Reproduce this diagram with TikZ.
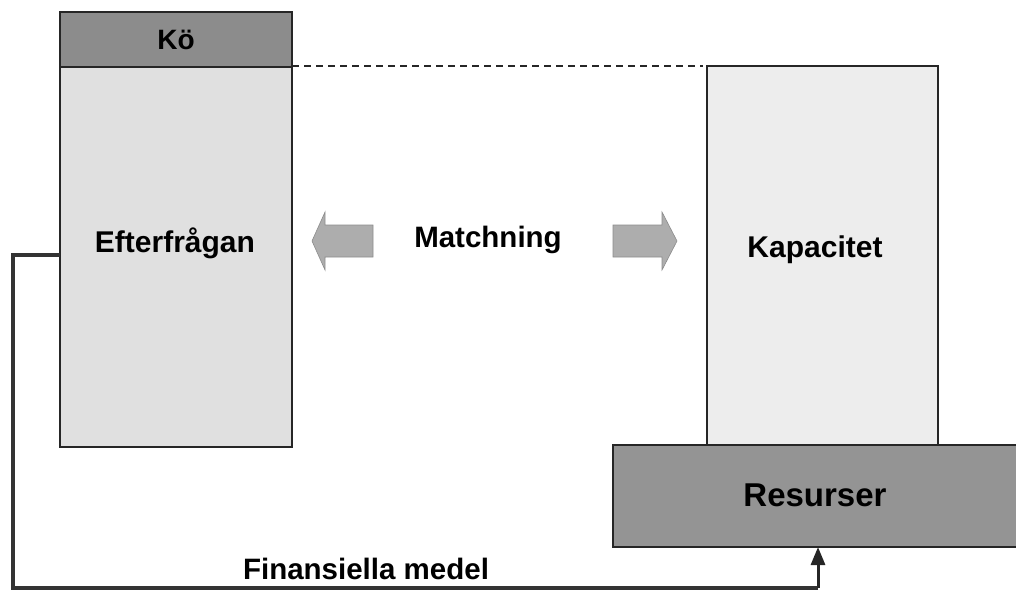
\documentclass[tikz,border=0pt]{standalone}
\usepackage{fontspec}
\setmainfont{Liberation Sans}
\usetikzlibrary{arrows.meta}
\begin{document}
\begin{tikzpicture}[x=1pt,y=-1pt,
  box/.style={draw=black!85,line width=1.8pt,inner sep=0pt},
  lbl/.style={font=\bfseries\fontsize{29.5}{32}\selectfont,text=black,inner sep=0pt},
  feed/.style={draw=black!80,line width=3.5pt},
  marrow/.style={fill=black!32,draw=black!45,line width=0.6pt}]
\useasboundingbox (0,0) rectangle (1016,590);
\begin{scope}
\clip (0,0) rectangle (1016,590);
% left column
\draw[box,fill=black!45] (60,12) rectangle (292,67);
\draw[box,fill=black!12] (60,67) rectangle (292,447);
\coordinate (ko) at (176,40);
\coordinate (eft) at (175,243);
\coordinate (eftW) at (60,255);
% right column
\draw[box,fill=black!7] (707,66) rectangle (938,445);
\coordinate (kap) at (815,250);
\draw[box,fill=black!42] (613,445) rectangle (1030,547);
\coordinate (res) at (815,495);
\coordinate (resS) at (818,547);
% dashed link
\draw[black!85,line width=2pt,dash pattern=on 7pt off 5pt] (292,66) -- (703,66);
% matching arrows
\draw[marrow] (312,241) -- (325,212) -- (325,225) -- (373,225) -- (373,257) -- (325,257) -- (325,270) -- cycle;
\draw[marrow] (677,241) -- (662,212) -- (662,225) -- (613,225) -- (613,257) -- (662,257) -- (662,270) -- cycle;
% feedback line
\coordinate (c1) at (13,255);
\coordinate (c2) at (13,588);
\coordinate (c3) at (818,588);
\draw[feed] (eftW) -- (c1) -- (c2) -- (c3);
\draw[black!85,line width=3pt,-{Triangle[length=18pt,width=14pt]}] (c3) -- (resS);
\end{scope}
% labels
\node[lbl,font=\bfseries\fontsize{28}{30}\selectfont] (tko) at (ko) {Kö};
\node[lbl,font=\bfseries\fontsize{30}{32}\selectfont] (teft) at (eft) {Efterfrågan};
\node[lbl] (tmatch) at (488,240) {Matchning};
\node[lbl,font=\bfseries\fontsize{30}{32}\selectfont] (tkap) at (kap) {Kapacitet};
\node[lbl,font=\bfseries\fontsize{33}{36}\selectfont] (tres) at (res) {Resurser};
\node[lbl] (tfin) at (366,569) {Finansiella medel};
\end{tikzpicture}
\end{document}
